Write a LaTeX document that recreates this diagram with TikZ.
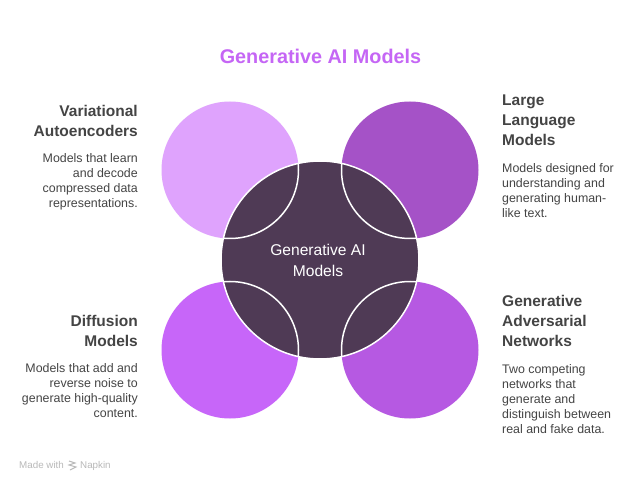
\documentclass[tikz,border=0pt]{standalone}
\usepackage{fontspec}
\setmainfont{Liberation Sans}
\usepackage{tikz}
\usetikzlibrary{positioning}
\definecolor{coredark}{HTML}{4F3A55}
\definecolor{titlepurple}{HTML}{C566F5}
\definecolor{vaepurple}{HTML}{DFA3FD}
\definecolor{llmpurple}{HTML}{A552C7}
\definecolor{diffpurple}{HTML}{C766F9}
\definecolor{ganpurple}{HTML}{B659E2}
\definecolor{bodygray}{HTML}{444444}

\begin{document}
\begin{tikzpicture}[x=1pt, y=-1pt,
  blob/.style={circle, minimum size=137pt, inner sep=0pt, outer sep=0pt},
  head/.style={font=\fontsize{15.5}{20}\selectfont\bfseries, text=bodygray, inner sep=0pt},
  body/.style={font=\fontsize{12.4}{15}\selectfont, text=bodygray, inner sep=0pt},
  ring/.style={draw=white, line width=1.5pt}]
  \useasboundingbox (0,0) rectangle (640,489);
  \fill[white] (0,0) rectangle (640,489);

  \node[font=\fontsize{19.8}{24}\selectfont\bfseries, text=titlepurple, inner sep=0pt] (title) at (320.5,56) {Generative AI Models};

  \node[blob, fill=vaepurple]  (vae)  at (230,170) {};
  \node[blob, fill=llmpurple]  (llm)  at (410,170) {};
  \node[blob, fill=diffpurple] (diff) at (230,350) {};
  \node[blob, fill=ganpurple]  (gan)  at (410,350) {};

  \fill[coredark] (320,260) circle (99);
  \begin{scope}
    \clip (320,260) circle (99);
    \draw[ring] (230,170) circle (68.5);
    \draw[ring] (410,170) circle (68.5);
    \draw[ring] (230,350) circle (68.5);
    \draw[ring] (410,350) circle (68.5);
  \end{scope}
  \draw[ring] (320,260) circle (99);
  \node[font=\fontsize{15.6}{20.5}\selectfont, text=white, align=center, inner sep=0pt] (core) at (318,260.5) {Generative AI\\Models};

  % left column
  \node[head, align=right, anchor=north east] (vaehead) at (138,105) {Variational\\Autoencoders};
  \node[body, align=right, below left=17pt and 0pt of vaehead.south east] (vaetext) {Models that learn\\and decode\\compressed data\\representations.};
  \node[head, align=right, anchor=north east] (diffhead) at (138,315) {Diffusion\\Models};
  \node[body, align=right, below left=17pt and 0pt of diffhead.south east] (difftext) {Models that add and\\reverse noise to\\generate high-quality\\content.};

  % right column
  \node[head, align=left, anchor=north west] (llmhead) at (502,95) {Large\\Language\\Models};
  \node[body, align=left, below right=17pt and 0pt of llmhead.south west] (llmtext) {Models designed for\\understanding and\\generating human-\\like text.};
  \node[head, align=left, anchor=north west] (ganhead) at (502,295) {Generative\\Adversarial\\Networks};
  \node[body, align=left, below right=18pt and 0pt of ganhead.south west] (gantext) {Two competing\\networks that\\generate and\\distinguish between\\real and fake data.};

  % watermark
  \node[font=\fontsize{9.8}{12}\selectfont, text=gray!55, inner sep=0pt, anchor=base west] (made) at (19,468.5) {Made with};
  \node[font=\fontsize{9.8}{12}\selectfont, text=gray!55, inner sep=0pt, anchor=base west] (napkin) at (80,468.5) {Napkin};
  \draw[gray!55, line width=1pt] (69,461) -- (75,463) -- (69,465) -- (76,467) -- (70,470);
\end{tikzpicture}
\end{document}
